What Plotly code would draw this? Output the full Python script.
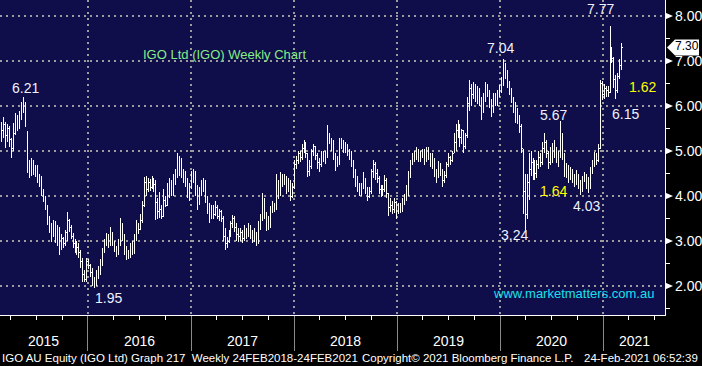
import pandas as pd
import plotly.graph_objects as go

# ---------------- data (weekly OHLC, IGO Ltd) ----------------
opens = [
 5.30,5.45,5.60,5.35,5.50,5.25,5.05,5.40,5.70,5.55,
 5.75,5.95,6.05,5.40,4.60,4.55,4.75,4.50,4.65,4.35,
 4.40,4.10,3.95,3.75,3.45,3.25,3.20,3.40,3.05,3.30,
 2.85,3.05,2.95,3.20,3.45,3.30,3.10,2.95,2.80,2.85,
 2.75,2.55,2.25,2.15,2.55,2.45,2.30,2.10,2.05,2.20,
 2.30,2.50,2.75,2.95,3.10,2.90,3.15,2.95,2.80,2.70,
 2.95,3.35,3.10,2.75,2.70,2.65,2.80,2.75,3.05,3.30,
 3.25,3.45,3.80,4.30,4.15,4.30,4.20,4.35,4.25,3.85,
 3.65,3.70,3.55,3.90,3.80,4.10,4.25,4.05,4.35,4.45,
 4.75,4.80,4.55,4.40,4.35,4.05,4.20,4.45,4.50,4.20,
 3.95,4.05,4.25,4.30,3.90,3.75,3.55,3.70,3.60,3.75,
 3.55,3.65,3.50,3.10,2.95,3.00,3.15,3.40,3.50,3.30,
 3.15,3.10,3.20,3.05,3.25,3.15,3.30,3.20,3.05,3.15,
 2.95,3.35,3.50,3.90,3.60,3.40,3.35,3.70,3.80,3.75,
 4.25,4.05,4.40,4.30,4.45,4.15,4.30,4.00,4.20,4.70,
 4.80,4.95,4.85,5.05,5.15,4.95,4.55,4.65,5.00,5.10,
 4.90,4.75,4.70,4.95,4.85,4.90,5.35,5.25,5.10,4.90,
 4.80,4.75,5.15,5.20,5.05,5.10,5.00,4.90,4.75,4.55,
 4.40,4.25,4.05,4.20,4.35,4.15,4.00,4.10,4.55,4.70,
 4.50,4.40,4.15,4.05,4.15,4.35,4.05,3.75,3.80,3.70,
 3.85,3.65,3.75,3.70,3.85,3.95,4.10,4.45,4.75,4.85,
 4.90,4.95,4.85,4.90,5.00,4.80,5.05,4.85,4.75,4.80,
 4.50,4.45,4.70,4.55,4.35,4.45,4.70,4.85,4.80,4.95,
 5.20,5.45,5.55,5.30,5.45,5.10,5.35,6.05,6.40,6.25,
 6.45,6.20,6.35,6.10,5.90,6.20,6.45,6.30,6.05,5.90,
 6.15,6.10,6.25,6.40,6.55,6.85,6.75,6.50,6.35,6.15,
 6.00,5.85,5.70,5.55,5.05,4.10,3.60,4.30,4.60,4.75,
 4.55,4.50,4.70,4.85,4.75,5.05,5.20,4.95,4.75,4.90,
 5.00,5.05,4.80,4.90,5.30,4.95,4.60,4.65,4.45,4.55,
 4.40,4.35,4.45,4.30,4.15,4.35,4.45,4.25,4.20,4.55,
 4.70,4.85,4.80,5.05,6.50,6.25,6.40,6.35,6.30,7.20,
 7.05,6.60,6.35,6.65,6.90,
]
highs = [
 5.65,5.76,5.65,5.60,5.55,5.30,5.62,5.85,5.80,5.90,
 6.10,6.21,6.10,5.45,4.80,4.84,4.80,4.70,4.68,4.50,
 4.45,4.15,4.00,3.80,3.55,3.40,3.47,3.45,3.35,3.31,
 3.15,3.10,3.25,3.64,3.50,3.35,3.18,3.05,3.00,2.95,
 2.80,2.62,2.35,2.62,2.60,2.50,2.40,2.20,2.35,2.45,
 2.60,2.85,3.05,3.18,3.15,3.31,3.20,3.00,2.90,3.05,
 3.51,3.40,3.15,2.90,2.80,2.95,3.00,3.15,3.47,3.40,
 3.60,3.90,4.42,4.45,4.40,4.38,4.45,4.40,4.36,3.95,
 4.10,3.80,4.16,4.00,4.30,4.40,4.36,4.50,4.60,4.96,
 4.90,4.85,4.60,4.55,4.40,4.30,4.55,4.60,4.55,4.25,
 4.20,4.35,4.40,4.35,4.00,3.85,3.80,3.80,3.90,3.80,
 3.72,3.69,3.55,3.29,3.10,3.25,3.45,3.58,3.55,3.40,
 3.29,3.30,3.25,3.35,3.30,3.40,3.35,3.25,3.28,3.20,
 3.45,3.60,4.07,3.95,3.65,3.55,3.78,3.90,3.85,4.49,
 4.35,4.53,4.50,4.50,4.45,4.40,4.35,4.30,4.80,4.90,
 5.00,5.00,5.15,5.25,5.20,4.95,4.80,5.05,5.15,5.10,
 4.95,4.85,5.00,5.00,5.00,5.58,5.40,5.30,5.24,4.95,
 4.90,5.30,5.30,5.25,5.20,5.15,5.05,5.00,4.80,4.60,
 4.45,4.30,4.30,4.53,4.40,4.20,4.20,4.60,4.80,4.75,
 4.60,4.45,4.25,4.25,4.47,4.40,4.06,3.95,3.90,3.95,
 3.90,3.85,3.85,3.95,4.05,4.25,4.55,4.80,4.96,5.00,
 5.10,5.05,5.00,5.05,5.05,5.10,5.10,4.95,4.95,4.85,
 4.60,4.78,4.73,4.60,4.55,4.75,4.95,4.90,5.00,5.40,
 5.61,5.69,5.60,5.50,5.47,5.40,6.20,6.58,6.50,6.54,
 6.50,6.45,6.40,6.20,6.30,6.54,6.50,6.35,6.15,6.28,
 6.28,6.35,6.47,6.65,7.04,6.95,6.80,6.55,6.40,6.20,
 6.10,5.95,5.80,5.60,5.05,4.50,4.50,4.95,4.99,4.85,
 4.80,4.80,4.99,4.95,5.20,5.39,5.25,5.00,5.10,5.17,
 5.25,5.10,5.00,5.67,5.40,4.95,4.73,4.70,4.65,4.60,
 4.50,4.58,4.50,4.35,4.45,4.54,4.50,4.43,4.65,4.80,
 4.98,4.95,5.15,6.58,6.55,6.50,6.45,6.45,7.77,7.32,
 7.10,6.70,6.73,7.05,7.39,
]
lows = [
 5.20,5.30,5.07,5.20,5.10,4.84,5.00,5.35,5.45,5.50,
 5.70,5.85,5.53,4.51,4.40,4.45,4.47,4.42,4.30,4.20,
 4.00,3.87,3.70,3.35,3.18,2.98,3.10,2.95,2.90,2.69,
 2.80,2.85,2.90,3.00,3.20,3.05,2.85,2.73,2.70,2.62,
 2.40,2.09,2.10,2.10,2.38,2.20,2.00,1.95,2.00,2.15,
 2.25,2.45,2.73,2.90,2.84,2.88,2.90,2.75,2.64,2.68,
 2.90,3.00,2.70,2.58,2.60,2.62,2.70,2.72,3.00,3.15,
 3.25,3.40,3.75,4.00,4.10,4.11,4.15,4.10,3.47,3.50,
 3.51,3.50,3.55,3.75,3.80,3.95,4.00,4.00,4.25,4.40,
 4.45,4.40,4.30,4.20,3.95,3.90,4.15,4.30,4.00,3.68,
 3.80,4.00,4.10,3.85,3.60,3.40,3.50,3.50,3.55,3.50,
 3.45,3.43,3.00,2.80,2.85,2.95,3.10,3.30,3.20,3.00,
 2.98,3.00,2.95,3.00,3.05,3.10,3.05,2.95,2.98,2.90,
 2.95,3.25,3.45,3.50,3.22,3.25,3.30,3.62,3.65,3.70,
 3.94,4.00,4.20,4.25,4.05,4.10,3.90,3.95,4.15,4.60,
 4.72,4.75,4.80,4.95,4.85,4.42,4.45,4.60,4.90,4.80,
 4.60,4.53,4.65,4.75,4.72,4.85,5.15,5.00,4.80,4.56,
 4.65,4.70,5.05,4.95,4.95,4.90,4.80,4.65,4.40,4.20,
 4.10,4.00,4.00,4.15,4.05,3.90,3.95,4.05,4.40,4.35,
 4.30,4.05,3.98,4.00,4.10,3.95,3.55,3.65,3.60,3.62,
 3.50,3.60,3.63,3.65,3.80,3.90,4.00,4.40,4.70,4.75,
 4.80,4.75,4.75,4.85,4.70,4.75,4.80,4.65,4.60,4.42,
 4.30,4.40,4.45,4.21,4.30,4.40,4.65,4.70,4.75,4.95,
 5.00,5.30,5.10,5.15,4.95,5.05,5.30,5.90,6.00,6.15,
 6.10,6.05,6.00,5.69,5.85,6.10,6.20,5.95,5.76,5.85,
 6.00,6.00,6.20,6.30,6.45,6.60,6.40,6.25,6.06,5.85,
 5.62,5.60,5.40,4.95,3.61,3.24,3.50,3.91,4.45,4.36,
 4.36,4.40,4.60,4.65,4.70,4.95,4.85,4.60,4.70,4.73,
 4.85,4.73,4.65,4.85,4.80,4.43,4.40,4.28,4.35,4.30,
 4.21,4.25,4.15,4.03,4.10,4.32,4.15,4.07,4.15,4.50,
 4.65,4.70,4.75,5.05,6.13,6.15,6.20,6.20,6.30,6.95,
 6.40,6.15,6.30,6.60,6.80,
]
closes = [
 5.45,5.60,5.35,5.50,5.25,5.05,5.40,5.70,5.55,5.75,
 5.95,6.05,5.70,4.60,4.55,4.75,4.50,4.65,4.35,4.40,
 4.10,3.95,3.75,3.45,3.25,3.20,3.40,3.05,3.30,2.85,
 3.05,2.95,3.20,3.45,3.30,3.10,2.95,2.80,2.85,2.75,
 2.55,2.25,2.15,2.55,2.45,2.30,2.10,2.05,2.20,2.30,
 2.50,2.75,2.95,3.10,2.90,3.15,2.95,2.80,2.70,2.95,
 3.35,3.10,2.75,2.70,2.65,2.80,2.75,3.05,3.30,3.25,
 3.45,3.80,4.30,4.15,4.30,4.20,4.35,4.25,3.85,3.65,
 3.70,3.55,3.90,3.80,4.10,4.25,4.05,4.35,4.45,4.75,
 4.80,4.55,4.40,4.35,4.05,4.20,4.45,4.50,4.20,3.95,
 4.05,4.25,4.30,3.90,3.75,3.55,3.70,3.60,3.75,3.55,
 3.65,3.50,3.10,2.95,3.00,3.15,3.40,3.50,3.30,3.15,
 3.10,3.20,3.05,3.25,3.15,3.30,3.20,3.05,3.15,2.95,
 3.35,3.50,3.90,3.60,3.40,3.35,3.70,3.80,3.75,4.25,
 4.05,4.40,4.30,4.45,4.15,4.30,4.00,4.20,4.70,4.80,
 4.95,4.85,5.05,5.15,4.95,4.55,4.65,5.00,5.10,4.90,
 4.75,4.70,4.95,4.85,4.90,5.35,5.25,5.10,4.90,4.80,
 4.75,5.15,5.20,5.05,5.10,5.00,4.90,4.75,4.55,4.40,
 4.25,4.05,4.20,4.35,4.15,4.00,4.10,4.55,4.70,4.50,
 4.40,4.15,4.05,4.15,4.35,4.05,3.75,3.80,3.70,3.85,
 3.65,3.75,3.70,3.85,3.95,4.10,4.45,4.75,4.85,4.90,
 4.95,4.85,4.90,5.00,4.80,5.05,4.85,4.75,4.80,4.50,
 4.45,4.70,4.55,4.35,4.45,4.70,4.85,4.80,4.95,5.20,
 5.45,5.55,5.30,5.45,5.10,5.35,6.05,6.40,6.25,6.45,
 6.20,6.35,6.10,5.90,6.20,6.45,6.30,6.05,5.90,6.15,
 6.10,6.25,6.40,6.55,6.85,6.75,6.50,6.35,6.15,6.00,
 5.85,5.70,5.55,5.05,4.10,3.60,4.30,4.60,4.75,4.55,
 4.50,4.70,4.85,4.75,5.05,5.20,4.95,4.75,4.90,5.00,
 5.05,4.80,4.90,5.30,4.95,4.60,4.65,4.45,4.55,4.40,
 4.35,4.45,4.30,4.15,4.35,4.45,4.25,4.20,4.55,4.70,
 4.85,4.80,5.05,6.50,6.25,6.40,6.35,6.30,7.20,7.05,
 6.60,6.35,6.65,6.90,7.30,
]
first_week = "2015-03-02"
years = [2015, 2016, 2017, 2018, 2019, 2020, 2021]
price_ticks = [2, 3, 4, 5, 6, 7, 8]
last_price = 7.30
# (text, x px, y px, colour) label positions on the chart
labels = [
    ("6.21", 25, 88, "#eef2ff"), ("1.95", 108, 298, "#eef2ff"),
    ("7.04", 500, 48, "#eef2ff"), ("7.77", 600, 9, "#eef2ff"),
    ("5.67", 553, 115, "#eef2ff"), ("6.15", 625, 114, "#eef2ff"),
    ("1.62", 642, 87, "#ffff00"), ("1.64", 553, 191, "#ffff00"),
    ("4.03", 586, 206, "#eef2ff"), ("3.24", 514, 235, "#eef2ff"),
]

# ---------------- layout constants ----------------
W, H = 702, 366
PW, PH = 665, 315          # plot area size (px)
X0, X1 = "2015-02-23", "2021-08-08"
Y0, Y1 = 1.356, 8.356
NAVY = "#0f0d4a"
FONT = "Liberation Sans, Arial, sans-serif"

dates = pd.date_range(first_week, periods=len(closes), freq="7D")

fig = go.Figure(go.Ohlc(
    x=dates, open=opens, high=highs, low=lows, close=closes,
    increasing=dict(line=dict(color="white", width=1)),
    decreasing=dict(line=dict(color="white", width=1)),
    tickwidth=0.35, showlegend=False, hoverinfo="skip",
))

def px2paper(x, y):
    return x / PW, 1 - y / PH

def text_ann(txt, x, y, col, size=14, xref="paper", yref="paper", xanchor="center",
             yshift=0):
    return dict(text=txt, x=x, y=y, xref=xref, yref=yref, xanchor=xanchor,
                yanchor="middle", showarrow=False, yshift=yshift,
                font=dict(color=col, size=size, family=FONT))

ann = []
for txt, x, y, col in labels:
    xp, yp = px2paper(x, y)
    ann.append(text_ann(txt, xp, yp, col))

xp, yp = px2paper(224, 54)
ann.append(text_ann("IGO Ltd (IGO) Weekly Chart", xp, yp, "#86ec86", 13))
xp, yp = px2paper(573, 293)
ann.append(text_ann("www.marketmatters.com.au", xp, yp, "#19e0f0", 13))

# right axis labels + triangles
shapes = []
tri_w = 8 / PW
tri_h = 3.5 * (Y1 - Y0) / PH
for v in price_ticks:
    ann.append(text_ann(f"{v:.2f}", 1 + 8 / PW, v, "white", 14, yref="y", xanchor="left"))
    shapes.append(dict(type="path", xref="paper", yref="y",
                       path=f"M 1,{v + tri_h} L {1 + tri_w},{v} L 1,{v - tri_h} Z",
                       fillcolor="white", line=dict(width=0)))

# current price box
bh = 8 * (Y1 - Y0) / PH
shapes.append(dict(type="path", xref="paper", yref="y",
                   path=(f"M {667/PW},{last_price} L {675/PW},{last_price + bh} "
                         f"L {699/PW},{last_price + bh} L {699/PW},{last_price - bh} "
                         f"L {675/PW},{last_price - bh} Z"),
                   fillcolor="white", line=dict(width=0)))
ann.append(text_ann(f"{last_price:.2f}", 687 / PW, last_price, "black", 12, yref="y",
                    yshift=2))

# year labels centred in visible year segments
x0ts, x1ts = pd.Timestamp(X0), pd.Timestamp(X1)
for yr in years:
    a = max(pd.Timestamp(f"{yr}-01-01"), x0ts)
    b = min(pd.Timestamp(f"{yr + 1}-01-01"), x1ts)
    mid = a + (b - a) / 2
    ann.append(text_ann(str(yr), mid, -26 / PH, "white", 14, xref="x"))

# footer
foot_y = -43 / PH
ann.append(text_ann("IGO AU Equity (IGO Ltd) Graph 217  Weekly 24FEB2018-24FEB2021",
                    0, foot_y, "white", 11.5, xanchor="left"))
ann.append(text_ann("Copyright\u00a9 2021 Bloomberg Finance L.P.",
                    360 / PW, foot_y, "white", 11.5, xanchor="left"))
ann.append(text_ann("24-Feb-2021 06:52:39",
                    700 / PW, foot_y, "white", 11.5, xanchor="right"))

grid_col = "#9c9c9c"
fig.update_layout(
    width=W, height=H,
    margin=dict(l=0, r=W - PW, t=0, b=H - PH, pad=0),
    paper_bgcolor="black", plot_bgcolor=NAVY,
    annotations=ann, shapes=shapes,
    xaxis=dict(
        type="date", range=[X0, X1], rangeslider=dict(visible=False),
        tickvals=[pd.Timestamp(f"{y}-01-01") for y in years[1:]],
        showticklabels=False, ticks="outside", ticklen=35, tickcolor="#8a8a8a", tickwidth=1,
        showgrid=True, gridcolor=grid_col, gridwidth=2, griddash="2px,4px",
        showline=True, linecolor="white", linewidth=1, zeroline=False,
        minor=dict(ticks="outside", ticklen=4, tickcolor="white", dtick="M3",
                   tick0="2015-01-01", showgrid=False),
    ),
    yaxis=dict(
        side="right", range=[Y0, Y1], tickvals=price_ticks, showticklabels=False,
        ticks="", showgrid=True, gridcolor=grid_col, gridwidth=2, griddash="2px,4px",
        showline=True, linecolor="white", linewidth=1, zeroline=False,
        minor=dict(ticks="outside", ticklen=4, tickcolor="white", dtick=0.5, showgrid=False),
    ),
)

post = (
    "document.body.style.margin='0';document.body.style.background='black';"
    "document.querySelectorAll('.ohlclayer path, .gridlayer path, .xtick, .ytick').forEach(function(p){"
    "p.style.shapeRendering='crispEdges';});"
)
fig.write_html("out.html", config={"displayModeBar": False}, post_script=post)
